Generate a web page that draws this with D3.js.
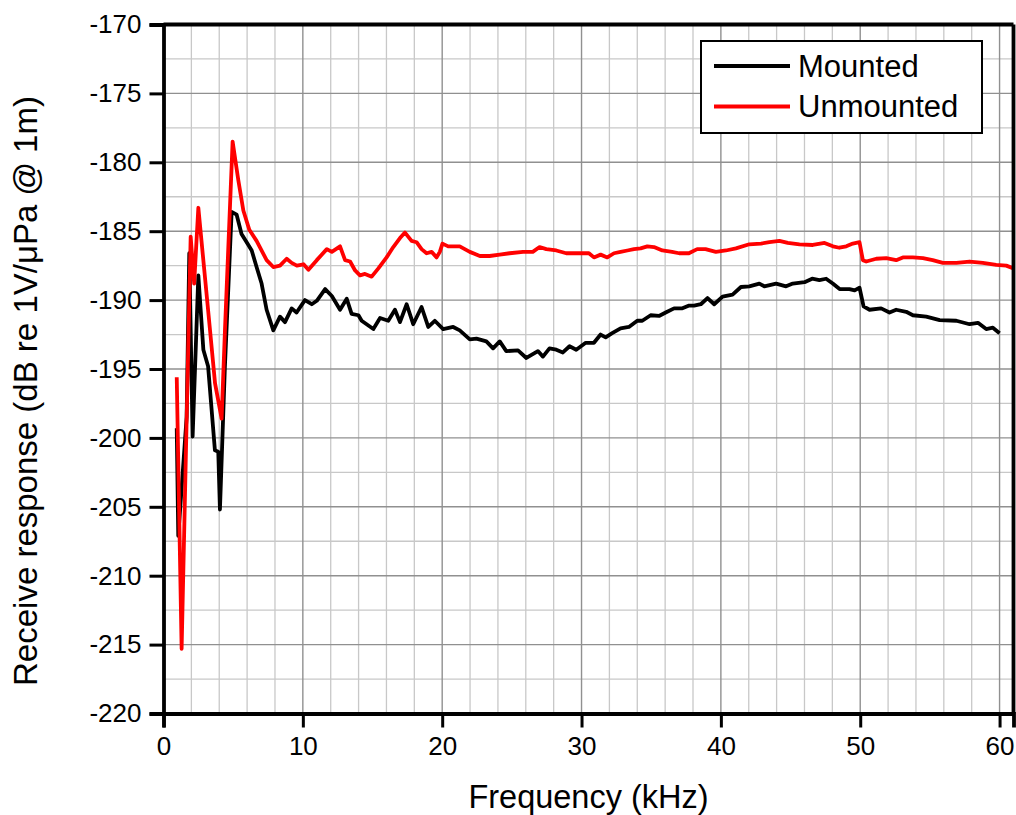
<!DOCTYPE html>
<html>
<head>
<meta charset="utf-8">
<script src="https://cdn.jsdelivr.net/npm/d3@7"></script>
<style>
  body { margin: 0; background: #fff; }
  text { font-family: "Liberation Sans", Arial, sans-serif; fill: #000; }
</style>
</head>
<body>
<div class="canvas"></div>
<script>
// data (kHz, dB)
const mountedKHz = [0.95,1.06,1.66,1.85,2.09,2.5,2.86,3.2,3.69,3.93,4.05,4.4,4.89,5.25,5.6,6.09,6.33,6.68,7.04,7.4,7.88,8.36,8.72,9.2,9.55,10.15,10.64,11.0,11.6,12.08,12.67,13.15,13.5,13.99,14.22,15.06,15.54,16.13,16.61,16.97,17.45,17.92,18.52,19.0,19.47,20.07,20.79,21.26,21.98,22.46,23.17,23.65,24.13,24.6,25.44,26.04,26.87,27.23,27.7,28.19,28.66,29.14,29.62,30.3,30.89,31.37,31.73,32.2,32.8,33.4,34.0,34.36,34.96,35.56,36.04,36.64,37.24,37.72,38.08,38.56,39.04,39.52,40.12,40.84,41.44,42.04,42.76,43.12,43.96,44.68,45.16,46.0,46.55,47.07,47.55,48.03,48.52,49.23,49.6,49.95,50.24,50.67,51.5,52.1,52.58,53.3,53.78,54.74,55.7,56.9,57.85,58.45,59.04,59.52,60.0];
const mountedDb = [-199.3,-207.1,-198.5,-186.6,-199.9,-188.2,-193.6,-194.8,-200.9,-201.0,-205.2,-195,-183.6,-183.8,-185.2,-186.0,-186.4,-187.6,-188.8,-190.7,-192.2,-191.2,-191.6,-190.6,-190.9,-190.0,-190.3,-190.05,-189.2,-189.7,-190.7,-189.9,-191.0,-191.1,-191.5,-192.1,-191.3,-191.5,-190.7,-191.6,-190.3,-191.75,-190.5,-191.95,-191.5,-192.1,-191.95,-192.2,-192.85,-192.8,-193.0,-193.5,-193.0,-193.7,-193.65,-194.2,-193.7,-194.1,-193.5,-193.6,-193.8,-193.35,-193.6,-193.1,-193.1,-192.5,-192.7,-192.4,-192.05,-191.95,-191.5,-191.5,-191.1,-191.15,-190.9,-190.6,-190.6,-190.4,-190.4,-190.3,-189.85,-190.3,-189.75,-189.6,-189.05,-189.0,-188.8,-189.0,-188.8,-189.0,-188.8,-188.7,-188.45,-188.55,-188.45,-188.8,-189.2,-189.2,-189.3,-189.1,-190.45,-190.7,-190.6,-190.9,-190.7,-190.85,-191.1,-191.2,-191.45,-191.5,-191.75,-191.65,-192.1,-192.0,-192.4];

const unmountedKHz = [0.95,1.3,1.95,2.2,2.5,3.34,3.7,4.17,4.41,4.96,5.37,5.73,6.16,6.68,7.4,7.88,8.36,8.84,9.2,9.57,10.05,10.4,11.0,11.72,12.08,12.67,13.03,13.39,13.75,14.1,14.46,14.94,15.42,16.01,16.49,16.97,17.33,17.8,18.16,18.52,18.88,19.24,19.6,19.83,20.02,20.43,21.26,21.98,22.7,23.4,24.13,24.84,25.8,26.5,26.99,27.47,28.19,28.9,29.6,30.53,30.89,31.37,31.85,32.33,32.8,33.29,33.76,34.24,34.72,35.2,35.8,36.5,37.0,37.7,38.3,38.9,39.64,40.36,41.08,42.04,42.88,43.48,44.2,44.8,45.64,46.6,47.44,48.04,48.5,49.0,49.47,49.95,50.19,50.43,51.15,51.87,52.58,53.06,53.78,54.5,55.2,55.93,56.9,57.85,58.8,59.76,60.48,61.0];
const unmountedDb = [-195.6,-215.3,-185.4,-188.8,-183.3,-192.2,-196.05,-198.6,-192.2,-178.5,-181.3,-183.5,-184.9,-185.7,-187.1,-187.6,-187.5,-187.0,-187.3,-187.5,-187.4,-187.8,-187.1,-186.3,-186.5,-186.1,-187.1,-187.2,-187.85,-188.2,-188.1,-188.3,-187.7,-186.9,-186.15,-185.5,-185.1,-185.7,-185.8,-186.3,-186.6,-186.5,-186.9,-186.5,-185.9,-186.1,-186.1,-186.5,-186.8,-186.8,-186.7,-186.6,-186.5,-186.5,-186.15,-186.3,-186.4,-186.6,-186.6,-186.6,-186.9,-186.7,-186.9,-186.6,-186.5,-186.4,-186.3,-186.25,-186.1,-186.15,-186.4,-186.5,-186.6,-186.6,-186.3,-186.3,-186.5,-186.4,-186.25,-185.95,-185.9,-185.8,-185.7,-185.85,-185.95,-186.0,-185.85,-186.1,-186.2,-186.1,-185.9,-185.8,-187.1,-187.2,-187.0,-186.95,-187.1,-186.9,-186.9,-186.95,-187.1,-187.3,-187.3,-187.2,-187.3,-187.45,-187.5,-187.7];

const seriesNames = ['Mounted', 'Unmounted'];
const seriesColors = ['#000000', '#ff0000'];
const xTicks = [0, 10, 20, 30, 40, 50, 60];
const yTicks = [-220, -215, -210, -205, -200, -195, -190, -185, -180, -175, -170];

const margin = { top: 24.5, right: 2.5, bottom: 101.5, left: 163.5 };
const graphWidth = 1016 - margin.left - margin.right;
const graphHeight = 815 - margin.top - margin.bottom;

const svg = d3.select('.canvas')
  .append('svg')
    .attr('width', 1016)
    .attr('height', 815);

const graph = svg.append('g')
  .attr('transform', `translate(${margin.left}, ${margin.top})`);

const x = d3.scaleLinear().domain([0, 61]).range([0, graphWidth]);
const y = d3.scaleLinear().domain([-220, -170]).range([graphHeight, 0]);

// grid lines: minor first, then major
const minorX = d3.range(2, 61, 2).filter(v => v % 10 !== 0);
const minorY = d3.range(-217.5, -170, 2.5).filter(v => v % 5 !== 0);

graph.selectAll('.gx-minor').data(minorX).enter().append('line')
  .attr('x1', d => x(d)).attr('x2', d => x(d))
  .attr('y1', 0).attr('y2', graphHeight)
  .attr('stroke', '#c8c8c8').attr('stroke-width', 1.3);
graph.selectAll('.gy-minor').data(minorY).enter().append('line')
  .attr('y1', d => y(d)).attr('y2', d => y(d))
  .attr('x1', 0).attr('x2', graphWidth)
  .attr('stroke', '#c8c8c8').attr('stroke-width', 1.3);
graph.selectAll('.gx-major').data(xTicks.filter(d => d > 0)).enter().append('line')
  .attr('x1', d => x(d)).attr('x2', d => x(d))
  .attr('y1', 0).attr('y2', graphHeight)
  .attr('stroke', '#909090').attr('stroke-width', 1.4);
graph.selectAll('.gy-major').data(yTicks.slice(1, -1)).enter().append('line')
  .attr('y1', d => y(d)).attr('y2', d => y(d))
  .attr('x1', 0).attr('x2', graphWidth)
  .attr('stroke', '#909090').attr('stroke-width', 1.4);

// curves
svg.append('defs').append('clipPath').attr('id', 'clip')
  .append('rect').attr('width', graphWidth).attr('height', graphHeight);

const line = d3.line()
  .x(d => x(d[0]))
  .y(d => y(d[1]));

const series = [
  d3.zip(mountedKHz, mountedDb),
  d3.zip(unmountedKHz, unmountedDb)
];

graph.append('g').attr('clip-path', 'url(#clip)')
  .selectAll('path').data(series).enter().append('path')
    .attr('fill', 'none')
    .attr('stroke', (d, i) => seriesColors[i])
    .attr('stroke-width', 3.8)
    .attr('stroke-linejoin', 'round')
    .attr('d', line);

// frame (top and right)
graph.append('line').attr('x1', 0).attr('x2', graphWidth).attr('y1', 0).attr('y2', 0)
  .attr('stroke', '#000').attr('stroke-width', 3.8);
graph.append('line').attr('x1', graphWidth).attr('x2', graphWidth).attr('y1', 0).attr('y2', graphHeight)
  .attr('stroke', '#000').attr('stroke-width', 3.8);

// axes
const xAxisGroup = graph.append('g')
  .attr('transform', `translate(0, ${graphHeight})`);
xAxisGroup.call(d3.axisBottom(x).tickValues(d3.range(0, 61, 2)).tickSize(7).tickFormat(''));
xAxisGroup.call(d3.axisBottom(x).tickValues(xTicks).tickSize(14).tickPadding(9).tickFormat(d => d));

const yAxisGroup = graph.append('g');
yAxisGroup.call(d3.axisLeft(y).tickValues(d3.range(-220, -169, 2.5)).tickSize(7).tickFormat(''));
yAxisGroup.call(d3.axisLeft(y).tickValues(yTicks).tickSize(14).tickPadding(8).tickFormat(d => String(d)));

graph.selectAll('.domain').attr('stroke', '#000').attr('stroke-width', 3.8);
graph.selectAll('.tick line').attr('stroke', '#000').attr('stroke-width', 3);
xAxisGroup.selectAll('text').attr('font-size', '26px');
yAxisGroup.selectAll('text').attr('font-size', '26px');

// axis titles
svg.append('text')
  .attr('x', margin.left + x(30.5))
  .attr('y', 808)
  .attr('text-anchor', 'middle')
  .attr('font-size', '32.5px')
  .text('Frequency (kHz)');

svg.append('text')
  .attr('transform', 'translate(37, 391) rotate(-90)')
  .attr('text-anchor', 'middle')
  .attr('font-size', '33px')
  .text('Receive response (dB re 1V/\u03bcPa @ 1m)');

// legend
const legend = svg.append('g').attr('transform', 'translate(701, 41)');
legend.append('rect')
  .attr('width', 281).attr('height', 92)
  .attr('fill', '#fff').attr('stroke', '#000').attr('stroke-width', 2);
seriesNames.forEach((name, i) => {
  const ly = 25 + i * 40.5;
  legend.append('line')
    .attr('x1', 13).attr('x2', 89).attr('y1', ly).attr('y2', ly)
    .attr('stroke', seriesColors[i]).attr('stroke-width', 3.8);
  legend.append('text')
    .attr('x', 97).attr('y', ly)
    .attr('dy', '0.35em')
    .attr('font-size', '31px')
    .text(name);
});
</script>
</body>
</html>
